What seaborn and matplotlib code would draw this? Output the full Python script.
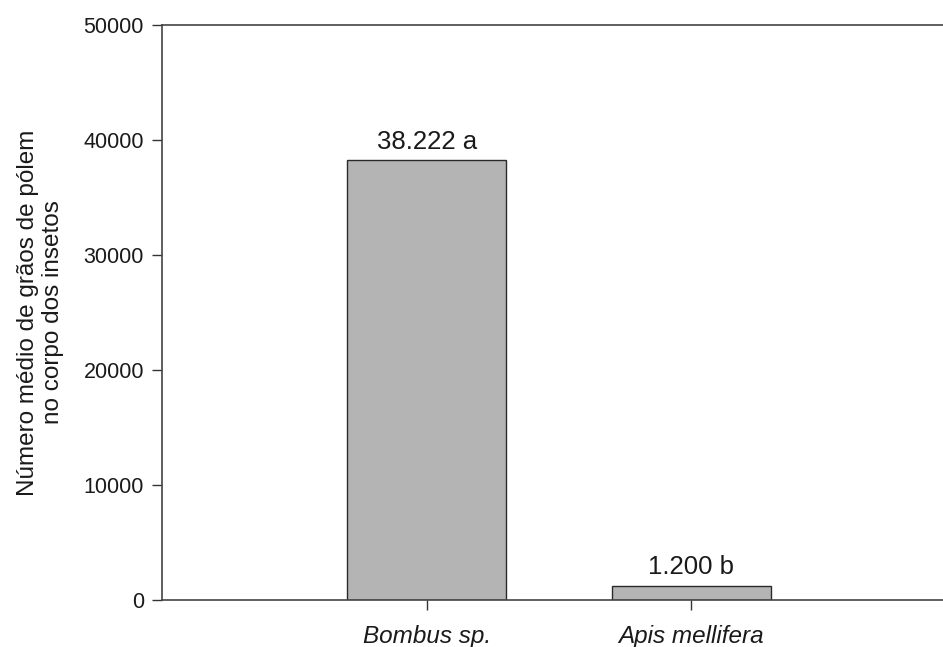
import matplotlib
matplotlib.use('Agg')
import matplotlib.pyplot as plt
import seaborn as sns

# data
species = ['Bombus sp.', 'Apis mellifera']
mean_grains = [38222, 1200]
bar_labels = ['38.222 a', '1.200 b']
y_ticks = [0, 10000, 20000, 30000, 40000, 50000]

sns.set_style('ticks')
plt.rcParams['font.family'] = ['Liberation Sans', 'DejaVu Sans']

fig = plt.figure(figsize=(9.43, 6.47), dpi=100)
ax = fig.add_axes([162 / 943, 47 / 647, 1 - 162 / 943, 575 / 647])

sns.barplot(x=species, y=mean_grains, color='#b4b4b4', saturation=1,
            width=0.6, edgecolor='#2a2a2a', linewidth=1.0, ax=ax)

ax.bar_label(ax.containers[0], labels=bar_labels, padding=5, fontsize=18.5,
             color='#1a1a1a')

ax.set_ylim(0, 50000)
ax.set_xlim(-1.0, 1.95)
ax.set_yticks(y_ticks)
ax.set_yticklabels([str(t) for t in y_ticks], fontsize=15.5, color='#1a1a1a')
for lab in ax.get_xticklabels():
    lab.set_fontstyle('italic')
    lab.set_fontsize(17.5)
    lab.set_color('#1a1a1a')

ax.set_ylabel('Número médio de grãos de pólem\nno corpo dos insetos',
              fontsize=17.5, color='#1a1a1a', labelpad=14, linespacing=1.15)
ax.set_xlabel('')

ax.tick_params(axis='both', direction='out', length=7, width=1,
               color='#333333', pad=6)
ax.tick_params(axis='x', pad=11)

for side in ['left', 'top', 'bottom']:
    ax.spines[side].set_visible(True)
    ax.spines[side].set_color('#444444')
    ax.spines[side].set_linewidth(1.2)
ax.spines['right'].set_visible(False)

fig.savefig('out.png', dpi=100)
